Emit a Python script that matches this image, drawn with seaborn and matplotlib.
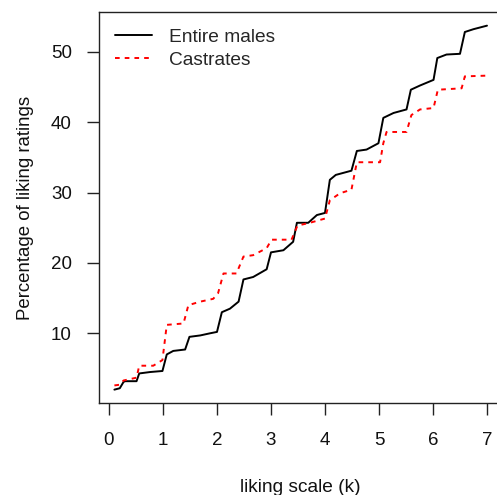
import matplotlib
matplotlib.use("Agg")
import matplotlib.pyplot as plt
import seaborn as sns
import pandas as pd
from matplotlib.lines import Line2D

sns.set_style("white")
plt.rcParams['font.family'] = ['Liberation Sans', 'DejaVu Sans']

# Entire males
males_x = [0.10, 0.20, 0.27, 0.30, 0.51, 0.56, 0.76, 0.99, 1.07, 1.19, 1.41, 1.49,
           1.69, 1.87, 2.00, 2.09, 2.24, 2.40, 2.49, 2.67, 2.92, 3.00, 3.23, 3.41,
           3.48, 3.69, 3.85, 4.00, 4.09, 4.20, 4.49, 4.59, 4.77, 4.99, 5.08, 5.27,
           5.51, 5.59, 5.76, 6.01, 6.08, 6.25, 6.50, 6.59, 6.75, 7.00]
males_y = [2.0, 2.2, 3.1, 3.2, 3.2, 4.3, 4.5, 4.65, 7.0, 7.5, 7.7, 9.5,
           9.7, 10.0, 10.2, 13.0, 13.5, 14.5, 17.65, 18.0, 19.1, 21.5, 21.8, 23.0,
           25.7, 25.7, 26.8, 27.1, 31.8, 32.5, 33.1, 35.9, 36.1, 37.0, 40.6, 41.3,
           41.8, 44.6, 45.2, 46.0, 49.1, 49.6, 49.7, 52.8, 53.2, 53.7]

# Castrates
castr_x = [0.10, 0.20, 0.27, 0.51, 0.56, 0.82, 0.99, 1.07, 1.38, 1.47, 1.69, 1.93,
           2.02, 2.12, 2.36, 2.49, 2.67, 2.92, 3.01, 3.38, 3.49, 3.72, 4.00, 4.09,
           4.28, 4.49, 4.59, 5.02, 5.08, 5.14, 5.51, 5.60, 5.76, 6.01, 6.09, 6.53,
           6.59, 7.00]
castr_y = [2.6, 2.7, 3.3, 3.7, 5.4, 5.4, 6.2, 11.2, 11.4, 14.0, 14.5, 14.9,
           15.7, 18.5, 18.5, 20.9, 21.1, 22.1, 23.3, 23.3, 25.3, 25.7, 26.3, 28.9,
           29.9, 30.4, 34.3, 34.3, 37.0, 38.6, 38.6, 41.0, 41.8, 42.0, 44.6, 44.8,
           46.5, 46.6]

x_ticks = [0, 1, 2, 3, 4, 5, 6, 7]
y_ticks = [10, 20, 30, 40, 50]

W, H = 497, 495
fig = plt.figure(figsize=(W / 100, H / 100), dpi=100)
ax = fig.add_axes([99 / W, (H - 403.3) / H, 403 / W, 391.3 / H])

DASH = (0, (2.4, 2.6))
df_m = pd.DataFrame({"x": males_x, "y": males_y})
df_c = pd.DataFrame({"x": castr_x, "y": castr_y})
sns.lineplot(data=df_m, x="x", y="y", ax=ax, color="black", lw=1.4, sort=False)
sns.lineplot(data=df_c, x="x", y="y", ax=ax, color="#ff0000", lw=1.4, sort=False)
ax.lines[1].set_linestyle(DASH)

ax.set_xlim(-0.185, 7.278)
ax.set_ylim(0.06, 55.64)
ax.set_xticks(x_ticks)
ax.set_yticks(y_ticks)
ax.set_xticklabels([str(v) for v in x_ticks])
ax.set_yticklabels([str(v) for v in y_ticks])

for s in ax.spines.values():
    s.set_color("#222222")
    s.set_linewidth(1.0)

ax.tick_params(axis="both", which="both", direction="out", length=8.5, width=1.0,
               color="#222222", labelsize=13.5, labelcolor="#111111", pad=11)
ax.tick_params(axis="x", pad=12)
ax.tick_params(left=True, bottom=True)

ax.set_xlabel("liking scale (k)", fontsize=13.8, color="#111111", labelpad=22)
ax.set_ylabel("Percentage of liking ratings", fontsize=13.4, color="#111111", labelpad=12)

handles = [Line2D([0], [0], color="black", lw=1.4),
           Line2D([0], [0], color="#ff0000", lw=1.4, ls=DASH)]
ax.legend(handles, ["Entire males", "Castrates"], loc="upper left", frameon=False,
          fontsize=13.8, handlelength=1.93, handletextpad=0.85, labelspacing=0.3,
          bbox_to_anchor=(0.0, 1.0), borderaxespad=0.45)

fig.savefig("out.png", dpi=100)
